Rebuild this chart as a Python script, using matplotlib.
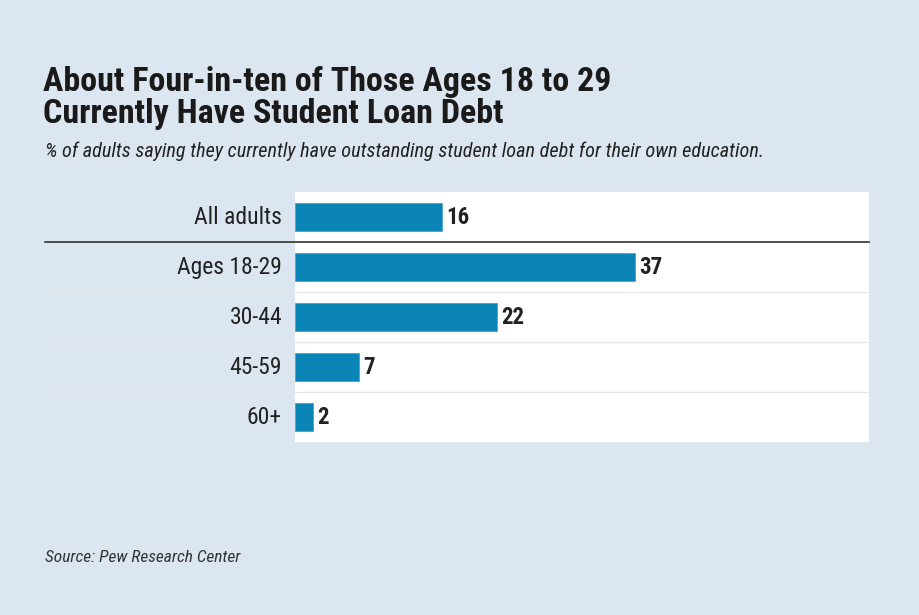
import matplotlib
matplotlib.use('Agg')
import matplotlib.pyplot as plt

categories = ['All adults', 'Ages 18-29', '30-44', '45-59', '60+']
values = [16, 37, 22, 7, 2]

title = 'About Four-in-ten of Those Ages 18 to 29\nCurrently Have Student Loan Debt'
subtitle = '% of adults saying they currently have outstanding student loan debt for their own education.'
source = 'Source: Pew Research Center'

narrow = ['Roboto Condensed', 'DejaVu Sans']   # condensed look, falls back to DejaVu

bg = '#dce6f1'
barColor = '#0a85b6'
textColor = '#222222'

fig = plt.figure(figsize=(9.2, 6.15), dpi=100)
fig.patch.set_facecolor(bg)

ax = fig.add_axes([295 / 920, 1 - 442 / 615, 574 / 920, 250 / 615])
ax.set_facecolor('white')

ypos = list(range(len(categories)))
ax.barh(ypos, values, height=0.56, color=barColor, edgecolor='#4aa3cc', linewidth=0.6, zorder=3)

for y, v in zip(ypos, values):
    ax.text(v + 0.4, y, str(v), va='center', ha='left', fontsize=16.5, fontweight='bold',
            color=textColor, family=narrow, stretch='condensed', zorder=4)

for y, c in zip(ypos, categories):
    ax.text(-1.4, y, c, va='center', ha='right', fontsize=17, color=textColor,
            family=narrow, stretch='condensed')

ax.set_xlim(0, 62.4)
ax.set_ylim(4.5, -0.5)

# row separators, reaching out to the left margin
xmin = (45 - 295) / 574
ax.axhline(0.5, xmin=xmin, xmax=1, color='#333333', linewidth=1.2, clip_on=False, zorder=2)
for y in [1.5, 2.5, 3.5]:
    ax.axhline(y, xmin=xmin, xmax=1, color='#e3e6ea', linewidth=1, clip_on=False, zorder=2)

ax.set_xticks([])
ax.set_yticks([])
for s in ax.spines.values():
    s.set_visible(False)

fig.text(43 / 920, 1 - 66 / 615, title, ha='left', va='top', fontsize=24.5, fontweight=900,
         color='#1a1a1a', family=narrow, stretch='condensed', linespacing=0.98)
fig.text(45 / 920, 1 - 151 / 615, subtitle, ha='left', va='center', fontsize=14.6, style='italic',
         color=textColor, family=narrow, stretch='condensed')
fig.text(45 / 920, 1 - 557 / 615, source, ha='left', va='center', fontsize=12.5, style='italic',
         color='#333333', family=narrow, stretch='condensed')

fig.savefig('out.png', dpi=100, facecolor=bg)
